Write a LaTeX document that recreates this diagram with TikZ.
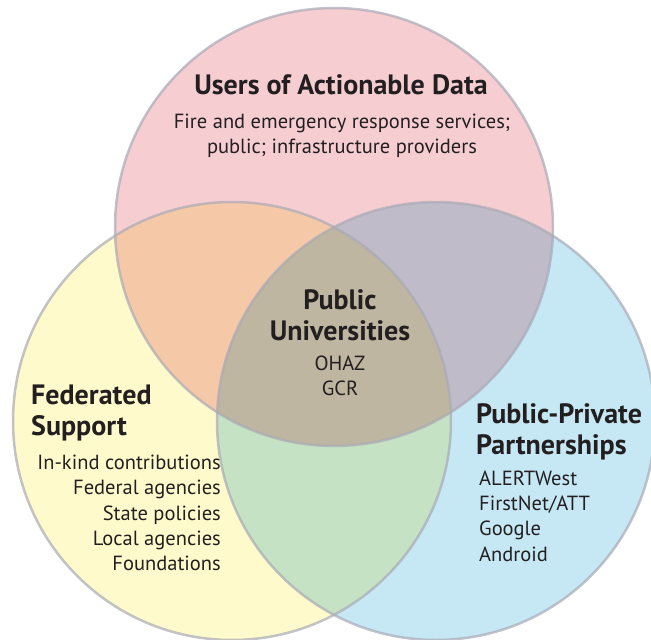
\documentclass[tikz,border=0pt]{standalone}
\usepackage{fontspec}
\setmainfont{PT Sans}
\definecolor{userpink}{RGB}{246,206,210}
\definecolor{fedyellow}{RGB}{254,250,204}
\definecolor{partblue}{RGB}{198,232,245}
\definecolor{rimgray}{RGB}{170,170,182}
\definecolor{ink}{RGB}{35,31,32}
\tikzset{
  venn/.style={circle, minimum size=438pt, inner sep=0pt},
  rim/.style={circle, minimum size=438pt, inner sep=0pt, draw=rimgray, draw opacity=0.7, line width=2.5pt},
  head/.style={font=\bfseries\fontsize{28}{31.5}\selectfont, text=ink, inner sep=0pt},
  item/.style={font=\fontsize{20.5}{25.3}\selectfont, text=ink, inner sep=0pt},
}
\begin{document}
\begin{tikzpicture}[x=1pt, y=-1pt]
    \useasboundingbox (0,0) rectangle (651,640);

    \begin{scope}[blend group=multiply]
      \node[venn, fill=userpink] (users) at (334,227) {};
      \node[venn, fill=fedyellow] (fed) at (232,421) {};
      \node[venn, fill=partblue] (part) at (436,421) {};
    \end{scope}

    \node[rim] (usersrim) at (users) {};
    \node[rim] (fedrim) at (fed) {};
    \node[rim] (partrim) at (part) {};

    \node[head] (usershead) at (341,85) {Users of Actionable Data};
    \node[item, align=center] (userslist) at (342,136) {Fire and emergency response services;\\public; infrastructure providers};

    \node[head, align=center] (unihead) at (340,315) {Public\\Universities};
    \node[item, align=center] (unilist) at (340,376) {OHAZ\\GCR};

    \node[head, align=left, anchor=west] (fedhead) at (31,413) {Federated\\Support};
    \node[item, align=right, anchor=east] (fedlist) at (221,513) {In-kind contributions\\Federal agencies\\State policies\\Local agencies\\Foundations};

    \node[head, align=left, anchor=west] (parthead) at (476,432) {Public-Private\\Partnerships};
    \node[item, align=left, anchor=west] (partlist) at (479,516) {ALERTWest\\FirstNet/ATT\\Google\\Android};
  \end{tikzpicture}
\end{document}
